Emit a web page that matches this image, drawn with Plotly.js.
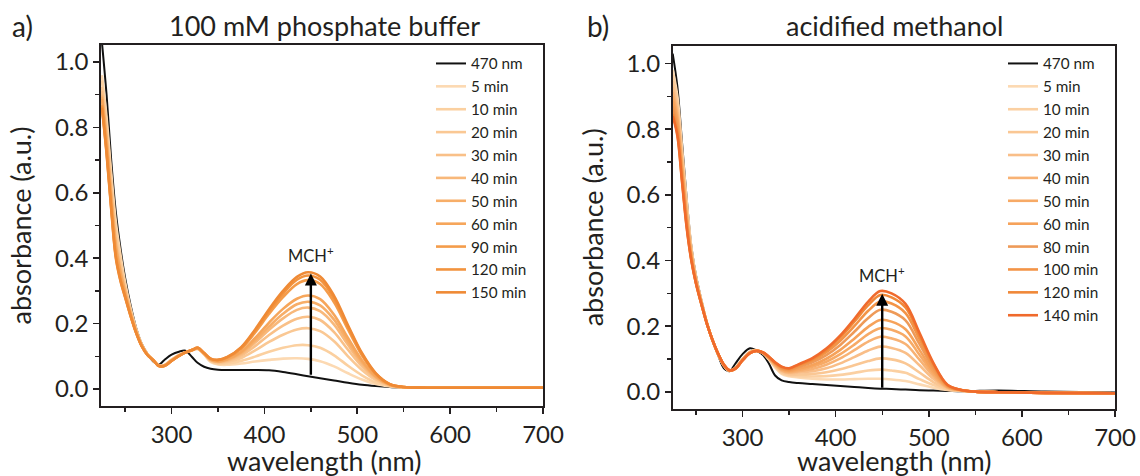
<!DOCTYPE html>
<html>
<head>
<meta charset="utf-8">
<script src="https://cdn.plot.ly/plotly-3.0.1.min.js"></script>
<style>html,body{margin:0;padding:0;background:#fff;}#chart{width:1140px;height:476px;}</style>
</head>
<body>
<div id="chart"></div>
<script>
// ---------- Panel a: 100 mM phosphate buffer ----------
const WL_A = [225, 230, 235, 240, 245, 250, 256, 262, 268, 274, 280, 286, 292, 300, 308, 315, 322, 328, 335, 342, 350, 360, 375, 390, 405, 420, 435, 447, 460, 475, 490, 505, 520, 535, 550, 575, 625, 700];
const LABELS_A = ['5 min', '10 min', '20 min', '30 min', '40 min', '50 min', '60 min', '90 min', '120 min', '150 min'];
const BLACK_A = [1.06, 0.90, 0.70, 0.54, 0.43, 0.34, 0.255, 0.186, 0.138, 0.108, 0.085, 0.074, 0.088, 0.105, 0.114, 0.117, 0.098, 0.080, 0.068, 0.062, 0.059, 0.058, 0.058, 0.058, 0.057, 0.052, 0.045, 0.039, 0.033, 0.026, 0.019, 0.013, 0.009, 0.006, 0.004, 0.004, 0.004, 0.004];
const A_5 = [0.960, 0.830, 0.660, 0.510, 0.410, 0.325, 0.245, 0.182, 0.136, 0.107, 0.090, 0.072, 0.073, 0.090, 0.104, 0.112, 0.118, 0.122, 0.106, 0.083, 0.075, 0.074, 0.078, 0.084, 0.089, 0.093, 0.094, 0.092, 0.085, 0.069, 0.048, 0.029, 0.015, 0.008, 0.004, 0.004, 0.004, 0.004];
const A_10 = [0.944, 0.812, 0.642, 0.492, 0.397, 0.318, 0.241, 0.180, 0.135, 0.107, 0.090, 0.072, 0.073, 0.089, 0.104, 0.112, 0.118, 0.123, 0.107, 0.085, 0.077, 0.078, 0.086, 0.099, 0.114, 0.126, 0.134, 0.134, 0.126, 0.103, 0.071, 0.042, 0.020, 0.009, 0.005, 0.004, 0.004, 0.004];
const A_20 = [0.924, 0.790, 0.620, 0.470, 0.381, 0.309, 0.237, 0.178, 0.134, 0.106, 0.090, 0.072, 0.072, 0.089, 0.103, 0.112, 0.118, 0.123, 0.107, 0.087, 0.080, 0.083, 0.095, 0.118, 0.144, 0.166, 0.182, 0.186, 0.177, 0.146, 0.100, 0.058, 0.027, 0.010, 0.005, 0.004, 0.004, 0.004];
const A_30 = [0.911, 0.776, 0.606, 0.456, 0.371, 0.303, 0.234, 0.176, 0.133, 0.106, 0.090, 0.072, 0.072, 0.088, 0.103, 0.112, 0.119, 0.124, 0.108, 0.088, 0.082, 0.086, 0.102, 0.131, 0.165, 0.194, 0.215, 0.221, 0.211, 0.174, 0.120, 0.069, 0.031, 0.011, 0.005, 0.004, 0.004, 0.004];
const A_40 = [0.900, 0.764, 0.594, 0.444, 0.362, 0.298, 0.231, 0.175, 0.132, 0.105, 0.089, 0.071, 0.071, 0.088, 0.102, 0.112, 0.119, 0.124, 0.108, 0.089, 0.083, 0.088, 0.107, 0.142, 0.181, 0.216, 0.242, 0.249, 0.238, 0.197, 0.135, 0.077, 0.035, 0.012, 0.005, 0.004, 0.004, 0.004];
const A_50 = [0.894, 0.757, 0.587, 0.437, 0.357, 0.295, 0.230, 0.174, 0.132, 0.105, 0.089, 0.071, 0.071, 0.087, 0.102, 0.112, 0.119, 0.125, 0.109, 0.090, 0.084, 0.090, 0.111, 0.149, 0.191, 0.230, 0.259, 0.267, 0.256, 0.212, 0.145, 0.083, 0.037, 0.013, 0.005, 0.004, 0.004, 0.004];
const A_60 = [0.887, 0.750, 0.580, 0.430, 0.352, 0.292, 0.228, 0.173, 0.132, 0.105, 0.089, 0.071, 0.071, 0.087, 0.102, 0.112, 0.119, 0.125, 0.109, 0.090, 0.085, 0.092, 0.114, 0.156, 0.203, 0.245, 0.276, 0.286, 0.275, 0.227, 0.156, 0.088, 0.039, 0.013, 0.006, 0.004, 0.004, 0.004];
const A_90 = [0.869, 0.730, 0.560, 0.410, 0.337, 0.284, 0.224, 0.171, 0.131, 0.104, 0.089, 0.071, 0.070, 0.086, 0.101, 0.112, 0.119, 0.126, 0.110, 0.092, 0.088, 0.096, 0.123, 0.173, 0.230, 0.281, 0.321, 0.333, 0.321, 0.265, 0.182, 0.103, 0.045, 0.014, 0.006, 0.004, 0.004, 0.004];
const A_120 = [0.864, 0.724, 0.554, 0.404, 0.333, 0.282, 0.223, 0.171, 0.130, 0.104, 0.089, 0.071, 0.070, 0.086, 0.101, 0.112, 0.119, 0.126, 0.110, 0.093, 0.089, 0.097, 0.126, 0.178, 0.238, 0.292, 0.334, 0.347, 0.334, 0.277, 0.190, 0.107, 0.047, 0.015, 0.006, 0.004, 0.004, 0.004];
const A_150 = [0.860, 0.720, 0.550, 0.400, 0.330, 0.280, 0.222, 0.170, 0.130, 0.104, 0.089, 0.071, 0.070, 0.086, 0.101, 0.112, 0.119, 0.126, 0.110, 0.093, 0.089, 0.098, 0.128, 0.182, 0.244, 0.300, 0.343, 0.357, 0.344, 0.285, 0.195, 0.110, 0.048, 0.015, 0.006, 0.004, 0.004, 0.004];
const COLORS_A = ['#fcd9b2', '#fbd0a0', '#fac894', '#f9c088', '#f8b87a', '#f7ae68', '#f6a65b', '#f49c4a', '#f2933e', '#ef8a35'];

// ---------- Panel b: acidified methanol ----------
const WL_B = [225, 230, 235, 240, 245, 250, 256, 262, 268, 274, 280, 286, 292, 300, 308, 315, 322, 328, 335, 342, 350, 360, 375, 390, 405, 420, 435, 448, 460, 475, 490, 505, 520, 535, 550, 575, 625, 700];
const LABELS_B = ['5 min', '10 min', '20 min', '30 min', '40 min', '50 min', '60 min', '80 min', '100 min', '120 min', '140 min'];
const BLACK_B = [1.03, 0.93, 0.76, 0.59, 0.445, 0.355, 0.278, 0.209, 0.155, 0.110, 0.072, 0.063, 0.085, 0.115, 0.133, 0.126, 0.112, 0.088, 0.050, 0.035, 0.030, 0.027, 0.024, 0.021, 0.018, 0.015, 0.012, 0.010, 0.009, 0.007, 0.005, 0.004, 0.003, 0.002, 0.003, 0.004, 0.001, -0.002];
const B_5 = [0.980, 0.900, 0.740, 0.580, 0.440, 0.350, 0.275, 0.208, 0.156, 0.113, 0.080, 0.064, 0.072, 0.100, 0.122, 0.127, 0.118, 0.100, 0.075, 0.055, 0.048, 0.044, 0.040, 0.038, 0.038, 0.039, 0.040, 0.040, 0.038, 0.033, 0.023, 0.013, 0.006, 0.003, 0.001, -0.001, -0.003, -0.004];
const B_10 = [0.965, 0.887, 0.730, 0.572, 0.436, 0.348, 0.274, 0.208, 0.156, 0.113, 0.080, 0.064, 0.072, 0.100, 0.122, 0.127, 0.118, 0.101, 0.077, 0.057, 0.050, 0.048, 0.047, 0.048, 0.052, 0.058, 0.065, 0.068, 0.065, 0.058, 0.039, 0.021, 0.007, 0.004, 0.001, -0.001, -0.003, -0.004];
const B_20 = [0.946, 0.871, 0.716, 0.561, 0.430, 0.345, 0.273, 0.207, 0.156, 0.113, 0.081, 0.064, 0.072, 0.099, 0.121, 0.127, 0.118, 0.102, 0.079, 0.060, 0.053, 0.053, 0.055, 0.060, 0.069, 0.081, 0.094, 0.102, 0.099, 0.087, 0.059, 0.030, 0.009, 0.004, 0.001, -0.001, -0.003, -0.004];
const B_30 = [0.928, 0.856, 0.703, 0.550, 0.425, 0.343, 0.271, 0.207, 0.156, 0.114, 0.081, 0.065, 0.071, 0.099, 0.121, 0.126, 0.119, 0.103, 0.081, 0.063, 0.057, 0.059, 0.063, 0.072, 0.087, 0.106, 0.126, 0.138, 0.134, 0.119, 0.081, 0.040, 0.012, 0.004, 0.001, -0.001, -0.003, -0.004];
const B_40 = [0.913, 0.842, 0.692, 0.542, 0.421, 0.340, 0.270, 0.207, 0.156, 0.114, 0.081, 0.065, 0.071, 0.098, 0.120, 0.126, 0.119, 0.104, 0.082, 0.066, 0.059, 0.063, 0.070, 0.083, 0.102, 0.127, 0.153, 0.168, 0.163, 0.146, 0.098, 0.049, 0.014, 0.005, 0.001, -0.001, -0.003, -0.004];
const B_50 = [0.899, 0.830, 0.682, 0.534, 0.417, 0.338, 0.269, 0.206, 0.156, 0.114, 0.082, 0.065, 0.071, 0.098, 0.120, 0.126, 0.119, 0.105, 0.084, 0.068, 0.062, 0.067, 0.077, 0.092, 0.115, 0.144, 0.176, 0.194, 0.189, 0.169, 0.113, 0.056, 0.015, 0.005, 0.001, -0.001, -0.003, -0.004];
const B_60 = [0.886, 0.820, 0.673, 0.526, 0.413, 0.337, 0.268, 0.206, 0.156, 0.114, 0.082, 0.065, 0.071, 0.097, 0.119, 0.126, 0.119, 0.105, 0.085, 0.070, 0.064, 0.071, 0.082, 0.101, 0.128, 0.162, 0.198, 0.219, 0.214, 0.191, 0.128, 0.063, 0.017, 0.005, 0.001, -0.001, -0.003, -0.004];
const B_80 = [0.869, 0.805, 0.661, 0.517, 0.408, 0.334, 0.267, 0.206, 0.156, 0.115, 0.082, 0.066, 0.070, 0.097, 0.119, 0.125, 0.120, 0.106, 0.087, 0.072, 0.067, 0.076, 0.090, 0.112, 0.143, 0.183, 0.225, 0.250, 0.244, 0.218, 0.146, 0.072, 0.018, 0.005, 0.001, -0.001, -0.003, -0.004];
const B_100 = [0.857, 0.794, 0.652, 0.510, 0.405, 0.332, 0.266, 0.205, 0.156, 0.115, 0.083, 0.066, 0.070, 0.096, 0.118, 0.125, 0.120, 0.107, 0.088, 0.074, 0.069, 0.079, 0.096, 0.121, 0.156, 0.200, 0.247, 0.275, 0.269, 0.240, 0.161, 0.079, 0.020, 0.006, 0.001, -0.001, -0.003, -0.004];
const B_120 = [0.846, 0.785, 0.645, 0.504, 0.402, 0.331, 0.265, 0.205, 0.156, 0.115, 0.083, 0.066, 0.070, 0.096, 0.118, 0.125, 0.120, 0.108, 0.089, 0.076, 0.071, 0.082, 0.100, 0.128, 0.166, 0.214, 0.264, 0.295, 0.288, 0.257, 0.173, 0.085, 0.021, 0.006, 0.001, -0.001, -0.003, -0.004];
const B_140 = [0.840, 0.780, 0.640, 0.500, 0.400, 0.330, 0.265, 0.205, 0.156, 0.115, 0.083, 0.066, 0.070, 0.096, 0.118, 0.125, 0.120, 0.108, 0.090, 0.077, 0.072, 0.084, 0.103, 0.132, 0.172, 0.222, 0.275, 0.307, 0.300, 0.268, 0.180, 0.088, 0.022, 0.006, 0.001, -0.001, -0.003, -0.004];
const COLORS_B = ['#fcd9b2', '#fbd0a2', '#fac794', '#f9be88', '#f8b274', '#f7aa66', '#f6a25a', '#ee9a58', '#f39447', '#f08838', '#f06a2c'];

const SERIES_A = [A_5, A_10, A_20, A_30, A_40, A_50, A_60, A_90, A_120, A_150];
const SERIES_B = [B_5, B_10, B_20, B_30, B_40, B_50, B_60, B_80, B_100, B_120, B_140];
const ARROW_NM = 450;

const FONT = 'Lato, "Open Sans", sans-serif';
const INK = '#231f20';

function lineTrace(x, y, name, color, width, xa, ya, legend, rank) {
  return {
    type: 'scatter', mode: 'lines', x: x, y: y, name: name,
    line: {color: color, width: width, shape: 'spline', smoothing: 1},
    xaxis: xa, yaxis: ya, legend: legend, legendrank: rank, hoverinfo: 'skip'
  };
}

// black reference spectrum drawn first (under the orange ones) but listed first in the legend
const data = [];
data.push(lineTrace(WL_A, BLACK_A, '470 nm', '#111', 2.0, 'x', 'y', 'legend', 1));
SERIES_A.forEach((s, i) => data.push(lineTrace(WL_A, s, LABELS_A[i], COLORS_A[i], 2.6, 'x', 'y', 'legend', 10 + i)));
data.push(lineTrace(WL_B, BLACK_B, '470 nm', '#111', 2.0, 'x2', 'y2', 'legend2', 1));
SERIES_B.forEach((s, i) => data.push(lineTrace(WL_B, s, LABELS_B[i], COLORS_B[i], 2.6, 'x2', 'y2', 'legend2', 10 + i)));

function idxOf(arr, v) { let b = 0; arr.forEach((a, i) => { if (Math.abs(a - v) < Math.abs(arr[b] - v)) b = i; }); return b; }
const iA = idxOf(WL_A, ARROW_NM), iB = idxOf(WL_B, ARROW_NM);

function xAxis(domain, range, anchor) {
  return {
    domain: domain, range: range, anchor: anchor,
    showline: true, linecolor: INK, linewidth: 1.8, mirror: true,
    ticks: 'outside', ticklen: 6, tickwidth: 1.6, tickcolor: INK,
    tick0: 0, dtick: 100, showgrid: false, zeroline: false,
    tickfont: {family: FONT, size: 24, color: INK},
    minor: {ticks: 'outside', ticklen: 4, tickwidth: 1.4, tickcolor: INK, dtick: 50, tick0: 0, showgrid: false}
  };
}
function yAxis(domain, range, anchor) {
  return {
    domain: domain, range: range, anchor: anchor,
    showline: true, linecolor: INK, linewidth: 1.8, mirror: true,
    ticks: 'outside', ticklen: 6, tickwidth: 1.6, tickcolor: INK,
    tick0: 0, dtick: 0.2, tickformat: '.1f', showgrid: false, zeroline: false,
    tickfont: {family: FONT, size: 24, color: INK},
    minor: {ticks: 'outside', ticklen: 4, tickwidth: 1.4, tickcolor: INK, dtick: 0.1, tick0: 0, showgrid: false},
    title: {text: 'absorbance (a.u.)', font: {family: FONT, size: 27, color: INK}, standoff: 15}
  };
}

const legendCommon = {
  xanchor: 'left', yanchor: 'top', bgcolor: 'rgba(0,0,0,0)', borderwidth: 0,
  font: {family: FONT, size: 15.3, color: INK}, tracegroupgap: 0, itemwidth: 30, traceorder: 'normal'
};

const annText = (text, x, y, size, extra) => Object.assign({
  text: text, x: x, y: y, xref: 'paper', yref: 'paper', showarrow: false,
  font: {family: FONT, size: size, color: INK}, xanchor: 'center', yanchor: 'middle'
}, extra || {});

const layout = {
  width: 1140, height: 476,
  margin: {l: 0, r: 0, t: 0, b: 0},
  paper_bgcolor: '#fff', plot_bgcolor: '#fff',
  font: {family: FONT, color: INK},
  showlegend: true,
  xaxis: xAxis([101 / 1140, 543 / 1140], [224, 700], 'y'),
  yaxis: yAxis([1 - 406 / 476, 1 - 45 / 476], [-0.052, 1.052], 'x'),
  xaxis2: xAxis([672.7 / 1140, 1115 / 1140], [225, 700], 'y2'),
  yaxis2: yAxis([1 - 409 / 476, 1 - 45.7 / 476], [-0.052, 1.054], 'x2'),
  legend: Object.assign({x: 431 / 1140, y: 1 - 47 / 476}, legendCommon),
  legend2: Object.assign({x: 1003 / 1140, y: 1 - 47 / 476}, legendCommon),
  annotations: [
    annText('a)', 22 / 1140, 1 - 26 / 476, 28),
    annText('100 mM phosphate buffer', 324 / 1140, 1 - 25 / 476, 27),
    annText('b)', 598 / 1140, 1 - 26 / 476, 28),
    annText('acidified methanol', 894 / 1140, 1 - 25 / 476, 27),
    annText('wavelength (nm)', 324 / 1140, 1 - 460 / 476, 27),
    annText('wavelength (nm)', 894 / 1140, 1 - 460 / 476, 27),
    {text: 'MCH<sup>+</sup>', x: ARROW_NM, y: 0.41, xref: 'x', yref: 'y', showarrow: false,
     font: {family: FONT, size: 16.5, color: INK}, xanchor: 'center', yanchor: 'middle'},
    {text: 'MCH<sup>+</sup>', x: ARROW_NM, y: 0.356, xref: 'x2', yref: 'y2', showarrow: false,
     font: {family: FONT, size: 16.5, color: INK}, xanchor: 'center', yanchor: 'middle'},
    {text: '', x: ARROW_NM, y: A_150[iA] - 0.004, ax: ARROW_NM, ay: BLACK_A[iA],
     xref: 'x', yref: 'y', axref: 'x', ayref: 'y', showarrow: true,
     arrowhead: 2, arrowsize: 1, arrowwidth: 2.4, arrowcolor: '#000', standoff: 0, startstandoff: 0},
    {text: '', x: ARROW_NM, y: B_140[iB] - 0.008, ax: ARROW_NM, ay: BLACK_B[iB] - 0.002,
     xref: 'x2', yref: 'y2', axref: 'x2', ayref: 'y2', showarrow: true,
     arrowhead: 2, arrowsize: 1, arrowwidth: 2.4, arrowcolor: '#000', standoff: 0, startstandoff: 0}
  ]
};

Plotly.newPlot('chart', data, layout, {displayModeBar: false, staticPlot: true});
</script>
</body>
</html>
